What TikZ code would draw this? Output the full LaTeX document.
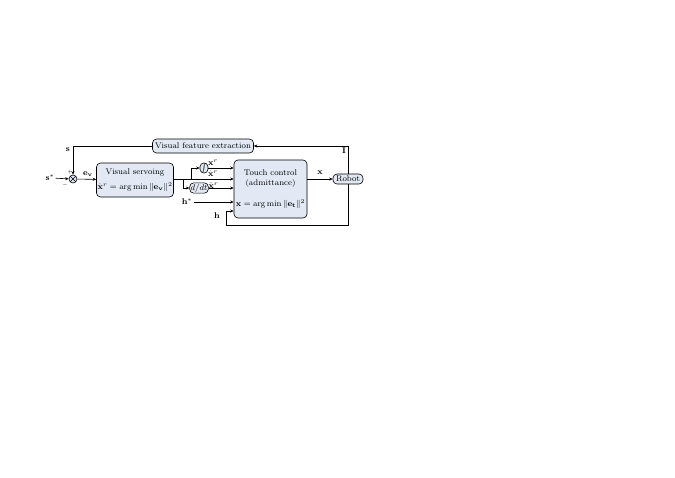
\RequirePackage{fix-cm}
\documentclass[tikz,border=0pt]{standalone}
\usepackage{amsmath,amssymb,bm}
\usetikzlibrary{arrows.meta}
\definecolor{boxfill}{RGB}{226,233,244}

\begin{document}
\begin{tikzpicture}[x=1pt,y=-1pt,line width=0.6pt,>={Stealth[length=3.5pt,width=3pt]},
    font=\fontsize{8.3}{10}\selectfont,
    blockbox/.style={draw,rounded corners=4pt,fill=boxfill,align=center,inner sep=1.5pt},
    lbl/.style={inner sep=1pt}]
            \useasboundingbox (0,0) rectangle (675,477);
            \node[draw,circle,fill=boxfill,minimum size=8pt,inner sep=0pt] (sum) at (73,179) {};
            \draw[line width=0.5pt] (sum.45) -- (sum.225) (sum.135) -- (sum.315);
            \node[lbl] (sin) at (50,178) {$\mathbf{s}^*$};
            \node[blockbox,minimum width=77pt,minimum height=34pt,inner sep=1pt] (vs) at (135,180) {Visual servoing\\[5pt]$\dot{\mathbf{x}}^r=\arg\min\|\mathbf{e}_\mathbf{v}\|^2$};
            \node[blockbox,minimum width=101pt,minimum height=14pt] (fe) at (203,146) {Visual feature extraction};
            \node[blockbox,minimum width=8pt,minimum height=10pt,inner sep=0.5pt] (integ) at (204,168) {$\int$};
            \node[blockbox,minimum width=18pt,minimum height=10pt,inner sep=1pt] (ddt) at (199,188) {$d/dt$};
            \node[blockbox,minimum width=73pt,minimum height=58pt] (tc) at (270.5,189) {Touch control\\(admittance)\\[11pt]$\mathbf{x}=\arg\min\|\mathbf{e}_\mathbf{t}\|^2$};
            \node[blockbox,minimum width=30pt,minimum height=10pt,inner sep=1pt] (robot) at (348,179) {Robot};
            \node[lbl] (hin) at (187,202) {$\mathbf{h}^*$};
            \coordinate (jup) at (191,179);
            \coordinate (jdn) at (183,179);
            \coordinate (hlow) at (226,225);
            \draw[->] (sin) -- (sum);
            \draw[->] (fe.west) -| (sum.north);
            \draw[->] (sum) -- (vs);
            \draw[->] (vs.east |- jup) -- (jup -| tc.west);
            \draw[->] (jup) |- (integ.west);
            \draw[->] (jdn) |- (ddt.west);
            \draw[->] (integ.east) -- (integ.east -| tc.west);
            \draw[->] (ddt.east) -- (ddt.east -| tc.west);
            \draw[->] (hin) -- (hin -| tc.west);
            \draw[->] (tc.east |- robot.west) -- (robot.west);
            \draw[->] (robot.north) |- (fe.east);
            \draw[->] (robot.south) |- (hlow) -- (hlow |- 0,211) -- (tc.west |- 0,211);
            \node at (68,150) {$\mathbf{s}$};
            \node at (70,172) {\tiny $+$};
            \node at (65,185) {\tiny $-$};
            \node at (88,174) {$\mathbf{e}_\mathbf{v}$};
            \node[inner sep=0pt] at (213,162.5) {$\mathbf{x}^r$};
            \node[inner sep=0pt] at (213,173.5) {$\dot{\mathbf{x}}^r$};
            \node[inner sep=0pt] at (213.5,185.5) {$\ddot{\mathbf{x}}^r$};
            \node at (320,173) {$\mathbf{x}$};
            \node at (344,151) {$\mathbf{I}$};
            \node at (217,216) {$\mathbf{h}$};
        \end{tikzpicture}
\end{document}
